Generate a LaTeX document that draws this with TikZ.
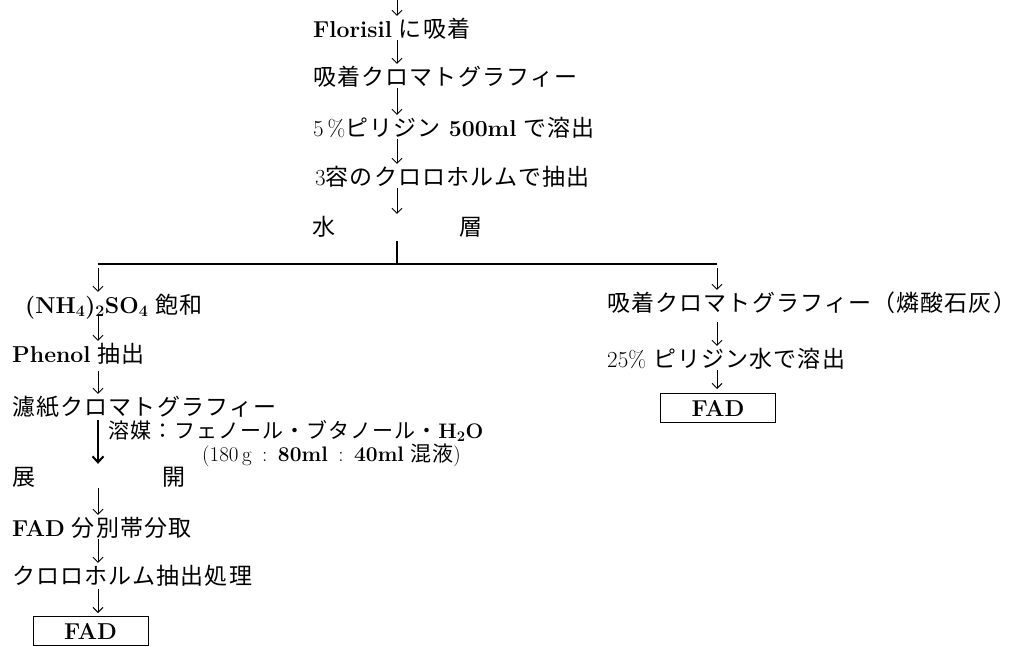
\documentclass[tikz,border=0pt]{standalone}
\usepackage{fontspec}
\newfontfamily\cjk[LetterSpace=5]{Noto Sans CJK JP}
\usetikzlibrary{arrows.meta}
\tikzset{
  txt/.style={inner sep=0pt, anchor=base west, text height=21pt, text depth=3pt,
              font=\fontsize{23}{27}\selectfont},
  arr/.style={line width=0.9pt, -{Straight Barb[length=5pt,width=10pt]}},
  boldarr/.style={line width=2pt, -{Straight Barb[length=6pt,width=11pt]}},
  fadbox/.style={draw, line width=1pt, minimum width=115pt, minimum height=29pt,
                 inner sep=0pt, font=\fontsize{23}{27}\selectfont\bfseries},
  rulew/.style={line width=1.2pt}
}
\begin{document}
\begin{tikzpicture}[x=1pt,y=-1pt]
\path[fill=white, use as bounding box] (0,0) rectangle (1025,646);
% column coordinates
\coordinate (top) at (397,0);
\coordinate (cm) at (397,0);
\coordinate (cl) at (98,0);
\coordinate (cr) at (717,0);
\coordinate (split) at (397,264);
\coordinate (bl) at (98,264);
\coordinate (br) at (717,264);
% main column
\node[txt] (n1) at (313,37) {\textbf{Florisil} {\cjk に吸着}};
\node[txt] (n2) at (313,85) {\cjk 吸着クロマトグラフィー};
\node[txt] (n3) at (313,136) {5\,\%{\cjk ピリジン} \textbf{500ml} {\cjk で溶出}};
\node[txt] (n4) at (315,185) {3{\cjk 容のクロロホルムで抽出}};
\node[txt] (w1) at (312,235) {\cjk 水};
\node[txt] (w2) at (459,235) {\cjk 層};
% left branch
\node[txt] (L1) at (25,313) {\textbf{(NH\textsubscript{4})\textsubscript{2}SO\textsubscript{4}} {\cjk 飽和}};
\node[txt] (L2) at (12,362) {\textbf{Phenol} {\cjk 抽出}};
\node[txt, text depth=2pt] (L3) at (12,415) {\cjk 濾紙クロマトグラフィー};
\node[txt, text height=19pt, text depth=2pt, font=\fontsize{21}{25}\selectfont] (L3a) at (108,438)
  {{\cjk 溶媒：フェノール・ブタノール・}\textbf{H\textsubscript{2}O}};
\node[txt, text height=17pt, font=\fontsize{21}{25}\selectfont] (L3b) at (202,461)
  {(180\,g\enspace:\enspace\textbf{80ml}\enspace:\enspace\textbf{40ml} {\cjk 混液})};
\node[txt] (D1) at (12,485) {\cjk 展};
\node[txt] (D2) at (162,485) {\cjk 開};
\node[txt] (L5) at (12,536) {\textbf{FAD} {\cjk 分別帯分取}};
\node[txt] (L6) at (12,584) {\cjk クロロホルム抽出処理};
\node[fadbox] (L7) at (90.5,631) {FAD};
% right branch
\node[txt] (R1) at (607,311) {\cjk 吸着クロマトグラフィー（燐酸石灰）};
\node[txt] (R2) at (607,367) {25\% {\cjk ピリジン水で溶出}};
\node[fadbox] (R3) at (718,408) {FAD};
% connectors, main column
\draw[arr] (top) -- (n1.north -| cm);
\draw[arr] (n1.south -| cm) -- (n2.north -| cm);
\draw[arr] (n2.south -| cm) -- (n3.north -| cm);
\draw[arr] (n3.south -| cm) -- (n4.north -| cm);
\draw[arr] (n4.south -| cm) -- (w1.north -| cm);
\draw[rulew, shorten <=3pt] (w1.south -| cm) -- (split);
\draw[rulew] (bl) -- (br);
% left branch connectors
\draw[arr, shorten <=4pt] (bl) -- (L1.north -| cl);
\draw[arr] (L1.south -| cl) -- (L2.north -| cl);
\draw[arr, shorten <=6pt] (L2.south -| cl) -- (L3.north -| cl);
\draw[boldarr, shorten <=3pt] (L3.south -| cl) -- (D1.north -| cl);
\draw[arr] (D1.south -| cl) -- (L5.north -| cl);
\draw[arr] (L5.south -| cl) -- (L6.north -| cl);
\draw[arr, shorten <=2pt, shorten >=3pt] (L6.south -| cl) -- (L7.north -| cl);
% right branch connectors
\draw[arr, shorten <=4pt] (br) -- (R1.north -| cr);
\draw[arr, shorten <=8pt] (R1.south -| cr) -- (R2.north -| cr);
\draw[arr, shorten >=4pt] (R2.south -| cr) -- (R3.north -| cr);
\end{tikzpicture}
\end{document}
